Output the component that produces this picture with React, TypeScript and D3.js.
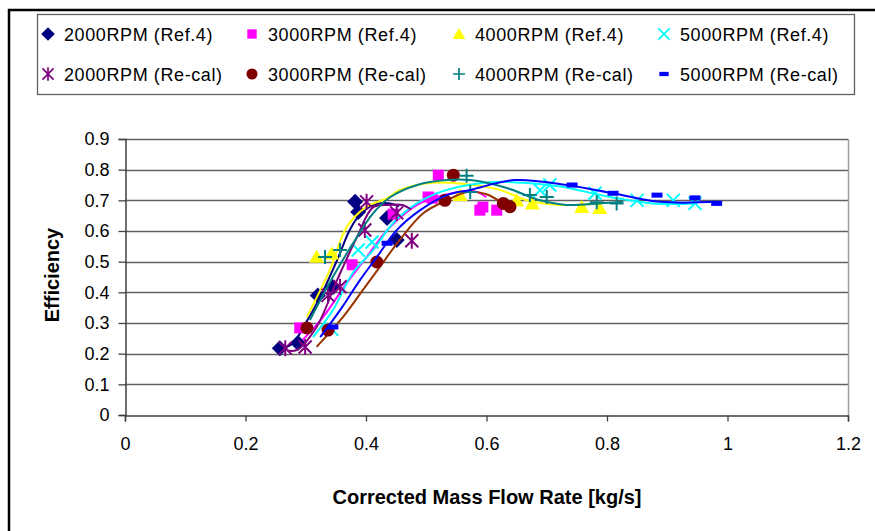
import React, { useEffect, useRef } from "react";
import * as d3 from "d3";

// legend labels, in series order
const seriesNames = [
  "2000RPM (Ref.4)",
  "3000RPM (Ref.4)",
  "4000RPM (Ref.4)",
  "5000RPM (Ref.4)",
  "2000RPM (Re-cal)",
  "3000RPM (Re-cal)",
  "4000RPM (Re-cal)",
  "5000RPM (Re-cal)",
];

const xTicks = [0, 0.2, 0.4, 0.6, 0.8, 1, 1.2];
const yTicks = [0, 0.1, 0.2, 0.3, 0.4, 0.5, 0.6, 0.7, 0.8, 0.9];

// marker points
const ref2000X = [0.257, 0.287, 0.32, 0.345, 0.382, 0.387, 0.435, 0.451];
const ref2000Y = [0.218, 0.235, 0.39, 0.417, 0.695, 0.662, 0.642, 0.571];
const ref3000X = [0.29, 0.377, 0.445, 0.503, 0.51, 0.52, 0.589, 0.594, 0.617];
const ref3000Y = [0.284, 0.49, 0.655, 0.711, 0.707, 0.782, 0.668, 0.678, 0.668];
const ref4000X = [0.318, 0.343, 0.556, 0.65, 0.676, 0.758, 0.788];
const ref4000Y = [0.516, 0.527, 0.717, 0.7, 0.69, 0.678, 0.675];
const ref5000X = [0.343, 0.387, 0.41, 0.689, 0.705, 0.78, 0.85, 0.91, 0.946];
const ref5000Y = [0.28, 0.538, 0.564, 0.733, 0.75, 0.723, 0.7, 0.7, 0.69];
const cal2000X = [0.266, 0.299, 0.337, 0.357, 0.398, 0.401, 0.451, 0.476];
const cal2000Y = [0.218, 0.222, 0.39, 0.418, 0.603, 0.695, 0.659, 0.568];
const cal3000X = [0.302, 0.337, 0.418, 0.531, 0.545, 0.628, 0.639];
const cal3000Y = [0.284, 0.277, 0.499, 0.7, 0.782, 0.69, 0.679];
const cal4000X = [0.332, 0.357, 0.567, 0.573, 0.672, 0.7, 0.783, 0.816];
const cal4000Y = [0.515, 0.538, 0.78, 0.727, 0.717, 0.711, 0.694, 0.69];
const cal5000X = [0.345, 0.435, 0.742, 0.81, 0.883, 0.946, 0.982];
const cal5000Y = [0.287, 0.56, 0.75, 0.723, 0.717, 0.708, 0.69];

// trend lines
const ref2000LineX = [0.26, 0.279, 0.3, 0.324, 0.352, 0.373, 0.387, 0.412, 0.44, 0.455];
const ref2000LineY = [0.215, 0.235, 0.3, 0.385, 0.505, 0.603, 0.646, 0.685, 0.69, 0.68];
const ref3000LineX = [0.295, 0.329, 0.368, 0.401, 0.44, 0.49, 0.545, 0.58, 0.6];
const ref3000LineY = [0.245, 0.32, 0.43, 0.515, 0.613, 0.691, 0.724, 0.73, 0.71];
const ref4000LineX = [0.302, 0.34, 0.368, 0.4, 0.435, 0.456, 0.501, 0.556, 0.622, 0.667, 0.722, 0.79];
const ref4000LineY = [0.32, 0.473, 0.613, 0.678, 0.707, 0.733, 0.756, 0.755, 0.734, 0.7, 0.685, 0.69];
const ref5000LineX = [0.312, 0.345, 0.378, 0.412, 0.445, 0.485, 0.534, 0.611, 0.66, 0.722, 0.805, 0.876, 0.95];
const ref5000LineY = [0.254, 0.342, 0.463, 0.538, 0.626, 0.691, 0.734, 0.76, 0.757, 0.745, 0.711, 0.69, 0.69];
const cal2000LineX = [0.27, 0.285, 0.318, 0.352, 0.385, 0.412, 0.44, 0.46, 0.475];
const cal2000LineY = [0.21, 0.212, 0.287, 0.44, 0.58, 0.678, 0.685, 0.685, 0.67];
const cal3000LineX = [0.318, 0.362, 0.395, 0.423, 0.456, 0.495, 0.534, 0.568, 0.6, 0.627];
const cal3000LineY = [0.222, 0.32, 0.408, 0.483, 0.571, 0.658, 0.7, 0.727, 0.72, 0.69];
const cal4000LineX = [0.307, 0.345, 0.385, 0.412, 0.44, 0.485, 0.534, 0.573, 0.634, 0.689, 0.733, 0.788, 0.827];
const cal4000LineY = [0.31, 0.45, 0.58, 0.658, 0.71, 0.75, 0.766, 0.766, 0.74, 0.7, 0.685, 0.69, 0.695];
const cal5000LineX = [0.324, 0.357, 0.39, 0.418, 0.451, 0.49, 0.534, 0.573, 0.647, 0.733, 0.81, 0.888, 0.982];
const cal5000LineY = [0.254, 0.342, 0.44, 0.515, 0.603, 0.668, 0.717, 0.734, 0.766, 0.75, 0.723, 0.695, 0.695];

const markerColors = ["#000080", "#FF00FF", "#FFFF00", "#00FFFF", "#800080", "#800000", "#008080", "#0000FF"];
const lineColors = ["#000080", "#FF00FF", "#FFFF00", "#00FFFF", "#800080", "#993300", "#008080", "#0000FF"];
const markerShapes = ["diamond", "square", "triangle", "x", "star", "circle", "plus", "dash"];

const pointsX = [ref2000X, ref3000X, ref4000X, ref5000X, cal2000X, cal3000X, cal4000X, cal5000X];
const pointsY = [ref2000Y, ref3000Y, ref4000Y, ref5000Y, cal2000Y, cal3000Y, cal4000Y, cal5000Y];
const linesX = [ref2000LineX, ref3000LineX, ref4000LineX, ref5000LineX, cal2000LineX, cal3000LineX, cal4000LineX, cal5000LineX];
const linesY = [ref2000LineY, ref3000LineY, ref4000LineY, ref5000LineY, cal2000LineY, cal3000LineY, cal4000LineY, cal5000LineY];

const W = 875;
const H = 531;

// draws one Excel-style marker centred on (cx, cy); k scales it
const drawMarker = (g: any, shape: string, color: string, cx: number, cy: number, k = 1) => {
  const m = g.append("g").attr("transform", `translate(${cx},${cy}) scale(${k})`);
  if (shape === "diamond") {
    m.append("path").attr("d", "M0,-8L8,0L0,8L-8,0Z").attr("fill", color);
  } else if (shape === "square") {
    m.append("rect").attr("x", -5.5).attr("y", -5.5).attr("width", 11).attr("height", 11).attr("fill", color);
  } else if (shape === "triangle") {
    m.append("path").attr("d", "M0,-7L7.5,6L-7.5,6Z").attr("fill", color);
  } else if (shape === "x") {
    m.append("path").attr("d", "M-6.5,-6.5L6.5,6.5M-6.5,6.5L6.5,-6.5").attr("stroke", color).attr("stroke-width", 2);
  } else if (shape === "star") {
    m.append("path")
      .attr("d", "M-6.5,-6.5L6.5,6.5M-6.5,6.5L6.5,-6.5M0,-8L0,8")
      .attr("stroke", color)
      .attr("stroke-width", 2);
  } else if (shape === "circle") {
    m.append("circle").attr("r", 6.5).attr("fill", color);
  } else if (shape === "plus") {
    m.append("path").attr("d", "M-7,0L7,0M0,-7L0,7").attr("stroke", color).attr("stroke-width", 2);
  } else if (shape === "dash") {
    m.append("rect").attr("x", -5.5).attr("y", -2.5).attr("width", 11).attr("height", 5).attr("fill", color);
  }
};

const EfficiencyChart = () => {
  const ref = useRef<SVGSVGElement | null>(null);

  useEffect(() => {
    const svg = d3.select(ref.current);
    svg.selectAll("*").remove();

    const font = "'Liberation Sans', Arial, sans-serif";
    const plot = { left: 125, top: 139, right: 848, bottom: 415 };

    const x = d3.scaleLinear().domain([0, 1.2]).range([plot.left, plot.right]);
    const y = d3.scaleLinear().domain([0, 0.9]).range([plot.bottom, plot.top]);

    svg.append("rect").attr("width", W).attr("height", H).attr("fill", "#fff");

    // outer chart border (runs off the right and bottom edges)
    svg
      .append("rect")
      .attr("x", 9)
      .attr("y", 10)
      .attr("width", W + 20)
      .attr("height", H + 20)
      .attr("fill", "none")
      .attr("stroke", "#000")
      .attr("stroke-width", 2.5);

    // gridlines
    svg
      .append("g")
      .selectAll("line")
      .data(yTicks.filter((t) => t > 0))
      .join("line")
      .attr("x1", plot.left)
      .attr("x2", plot.right)
      .attr("y1", (d) => Math.round(y(d)) + 0.5)
      .attr("y2", (d) => Math.round(y(d)) + 0.5)
      .attr("stroke", "#606060")
      .attr("stroke-width", 1.3);

    // plot area right border
    svg
      .append("line")
      .attr("x1", plot.right + 0.5)
      .attr("x2", plot.right + 0.5)
      .attr("y1", plot.top)
      .attr("y2", plot.bottom)
      .attr("stroke", "#a0a0a0")
      .attr("stroke-width", 1.5);

    // axes
    const xAxis = svg
      .append("g")
      .attr("transform", `translate(0,${plot.bottom + 0.5})`)
      .call(d3.axisBottom(x).tickValues(xTicks).tickSize(6).tickPadding(16).tickFormat((d: any) => String(d)));
    const yAxis = svg
      .append("g")
      .attr("transform", `translate(${plot.left + 0.5},0)`)
      .call(d3.axisLeft(y).tickValues(yTicks).tickSize(7).tickPadding(9).tickFormat((d: any) => String(d)));

    [xAxis, yAxis].forEach((a) => {
      a.select(".domain").attr("stroke", "#404040").attr("stroke-width", 1.5);
      a.selectAll(".tick line").attr("stroke", "#404040").attr("stroke-width", 1.3);
      a.selectAll("text").attr("fill", "#000").style("font-family", font).style("font-size", "18px");
    });

    // series: line then markers
    const line = d3.line().curve(d3.curveCatmullRom.alpha(0.5));
    const plotG = svg.append("g");
    seriesNames.forEach((_, s) => {
      const pts: [number, number][] = linesX[s].map((v, i) => [x(v), y(linesY[s][i])]);
      plotG
        .append("path")
        .attr("d", line(pts))
        .attr("fill", "none")
        .attr("stroke", lineColors[s])
        .attr("stroke-width", 2);
      pointsX[s].forEach((v, i) => drawMarker(plotG, markerShapes[s], markerColors[s], x(v), y(pointsY[s][i])));
    });

    // axis titles
    svg
      .append("text")
      .attr("x", 487)
      .attr("y", 504)
      .attr("text-anchor", "middle")
      .style("font-family", font)
      .style("font-size", "20px")
      .style("font-weight", "bold")
      .text("Corrected Mass Flow Rate [kg/s]");
    svg
      .append("text")
      .attr("transform", "translate(59,275) rotate(-90)")
      .attr("text-anchor", "middle")
      .style("font-family", font)
      .style("font-size", "20px")
      .style("font-weight", "bold")
      .text("Efficiency");

    // legend
    svg
      .append("rect")
      .attr("x", 37.5)
      .attr("y", 14.5)
      .attr("width", 817)
      .attr("height", 80)
      .attr("fill", "#fff")
      .attr("stroke", "#606060")
      .attr("stroke-width", 1.3);

    const colX = [48, 252, 459, 664];
    const rowY = [34, 74];
    seriesNames.forEach((name, s) => {
      const cx = colX[s % 4];
      const cy = rowY[Math.floor(s / 4)];
      drawMarker(svg, markerShapes[s], markerColors[s], cx, cy, 0.85);
      svg
        .append("text")
        .attr("x", cx + 16)
        .attr("y", cy + 6.5)
        .style("font-family", font)
        .style("font-size", "18px")
        .style("letter-spacing", "0.6px")
        .text(name);
    });
  }, []);

  return (
    <svg
      ref={ref}
      width={W}
      height={H}
      style={{ position: "absolute", left: 0, top: 0, display: "block" }}
    />
  );
};

export default function App() {
  return <EfficiencyChart />;
}
